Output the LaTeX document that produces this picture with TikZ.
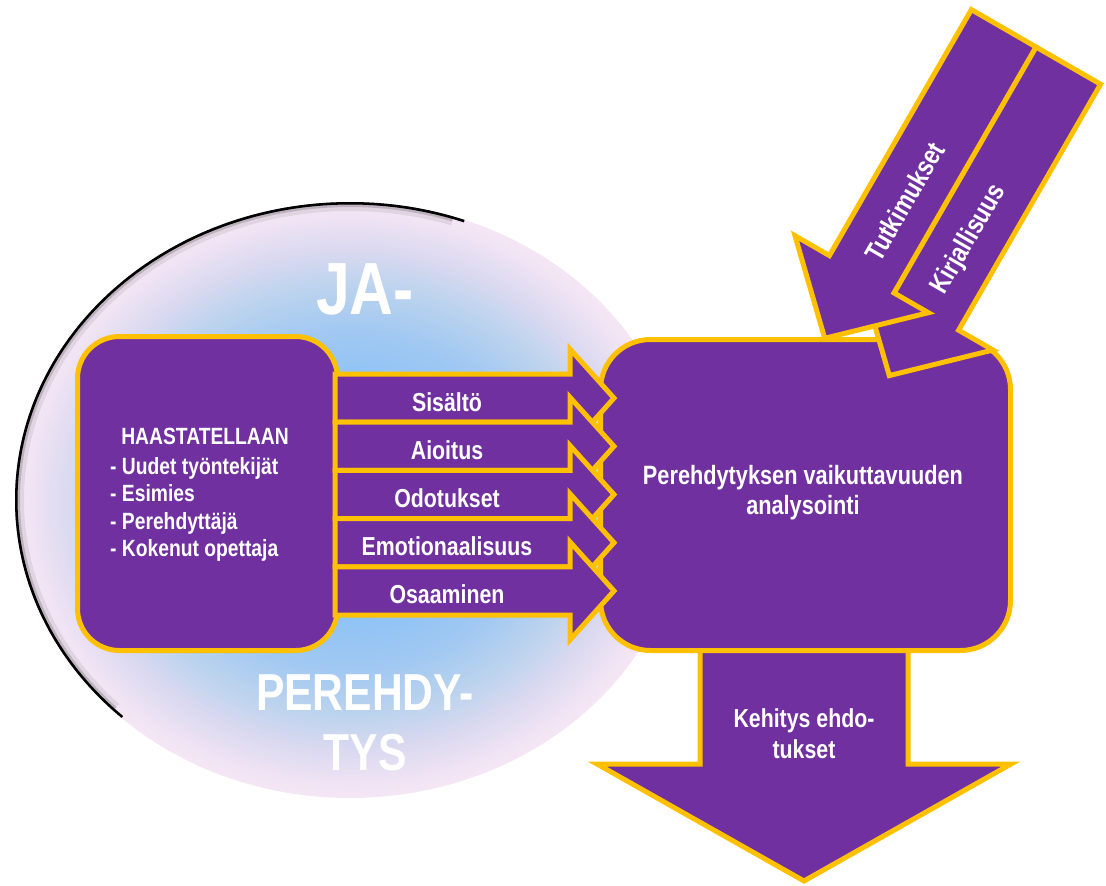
\documentclass[tikz,border=0pt]{standalone}
\usepackage{fontspec}
\setmainfont{Liberation Sans}
\newfontfamily\nar{Liberation Sans}[FakeStretch=0.82]
\definecolor{vio}{HTML}{7030A0}
\definecolor{gold}{HTML}{FFC000}
\definecolor{ja0}{HTML}{8CC2F7}
\definecolor{ja1}{HTML}{A0C8F2}
\definecolor{ja2}{HTML}{BCD3EE}
\definecolor{ja3}{HTML}{DAD9F0}
\definecolor{ja4}{HTML}{F1E4F4}
\definecolor{ja5}{HTML}{F5E6F5}
\pgfdeclareradialshading{jashade}{\pgfpoint{0bp}{0bp}}{color(0bp)=(ja0); color(9bp)=(ja0); color(14bp)=(ja1); color(18bp)=(ja2); color(21bp)=(ja3); color(24bp)=(ja4); color(25bp)=(ja5); color(50bp)=(ja5)}
\tikzset{
  blk/.style={fill=vio, draw=gold, line width=5pt, line join=miter},
  lbl/.style={text=white, inner sep=0pt, font=\nar\bfseries\fontsize{26}{30}\selectfont},
  ltxt/.style={text=white, inner sep=0pt, font=\nar\bfseries\fontsize{23.5}{28}\selectfont},
  rlbl/.style={text=white, inner sep=0pt, font=\nar\bfseries\fontsize{27.5}{30}\selectfont},
  bigtxt/.style={text=white, inner sep=0pt, anchor=base},
}
\begin{document}
\begin{tikzpicture}[x=1pt,y=-1pt]
\useasboundingbox (0,0) rectangle (1106,886);
% background ellipse
\shade[shading=jashade] (350,500) ellipse [x radius=335, y radius=298];
\begin{scope}
  \clip (350,500) ellipse [x radius=335, y radius=298];
  \draw[line width=18, black, opacity=0.07] plot[domain=135:288,samples=90] ({350+335*cos(\x)},{500+298*sin(\x)});
  \draw[line width=10, black, opacity=0.16] plot[domain=135:288,samples=90] ({350+335*cos(\x)},{500+298*sin(\x)});
  \draw[line width=5, black] plot[domain=133:290,samples=90] ({350+335*cos(\x)},{500+298*sin(\x)});
\end{scope}
% big texts
\node[bigtxt, font=\nar\bfseries\fontsize{74}{80}\selectfont] (ja) at (365,314.5) {JA-};
\node[bigtxt, font=\nar\bfseries\fontsize{52}{59}\selectfont] (pe) at (365,710) {PEREHDY-};
\node[bigtxt, font=\nar\bfseries\fontsize{52}{59}\selectfont] (ty) at (365,770) {TYS};
% down arrow
\draw[blk] (700,640) -- (700,764) -- (597,764) -- (804,881) -- (1011,764) -- (908,764) -- (908,640) -- cycle;
% boxes
\node[blk, rounded corners=50, minimum width=410, minimum height=311, anchor=north west, inner sep=0pt] (rbox) at (598,337) {};
\node[blk, rounded corners=42, minimum width=260, minimum height=314, anchor=north west, inner sep=0pt] (lbox) at (75,334) {};
% horizontal arrows
\foreach \t/\lab [count=\i] in {374/Sisältö, 422.2/Aioitus, 470.4/Odotukset, 518.6/Emotionaalisuus, 566.8/Osaaminen}{
  \pgfmathsetmacro\b{\t+48.2}
  \pgfmathsetmacro\c{\t+24.1}
  \draw[blk] (335,\t) -- (570,\t) -- (570,{\c-49}) -- (614,\c) -- (570,{\c+49}) -- (570,\b) -- (335,\b) -- cycle;
  \node[lbl, anchor=base] (h\i) at (447,{\c+13}) {\lab};
}
% diagonal arrows
\draw[blk] (1036.0,46.95) -- (1100.6,84.25) -- (958.6,330.2) -- (993.0,350.0) -- (889.3,375.6) -- (859.6,273.0) -- (894.0,292.9) -- cycle;
\draw[blk] (971.4,9.65) -- (1036.0,46.95) -- (894.0,292.9) -- (928.4,312.7) -- (824.7,338.3) -- (795,235.7) -- (829.4,255.6) -- cycle;
\node[rlbl, rotate=60] (tut) at (904.5,201.5) {Tutkimukset};
\node[rlbl, rotate=60] (kir) at (969,239.5) {Kirjallisuus};
% left box text
\node[ltxt, anchor=base] (hd) at (205,444) {HAASTATELLAAN};
\node[ltxt, anchor=base west] (l1) at (110,474) {- Uudet työntekijät};
\node[ltxt, anchor=base west] (l2) at (110,501.7) {- Esimies};
\node[ltxt, anchor=base west] (l3) at (110,529.3) {- Perehdyttäjä};
\node[ltxt, anchor=base west] (l4) at (110,556.7) {- Kokenut opettaja};
% right box text
\node[lbl, align=center, font=\nar\bfseries\fontsize{26.5}{30}\selectfont] (rt) at (803,493) {Perehdytyksen vaikuttavuuden\\analysointi};
% down arrow text
\node[lbl, anchor=base] (d1) at (804,727.7) {Kehitys ehdo-};
\node[lbl, anchor=base] (d2) at (804,758.3) {tukset};
\end{tikzpicture}
\end{document}
